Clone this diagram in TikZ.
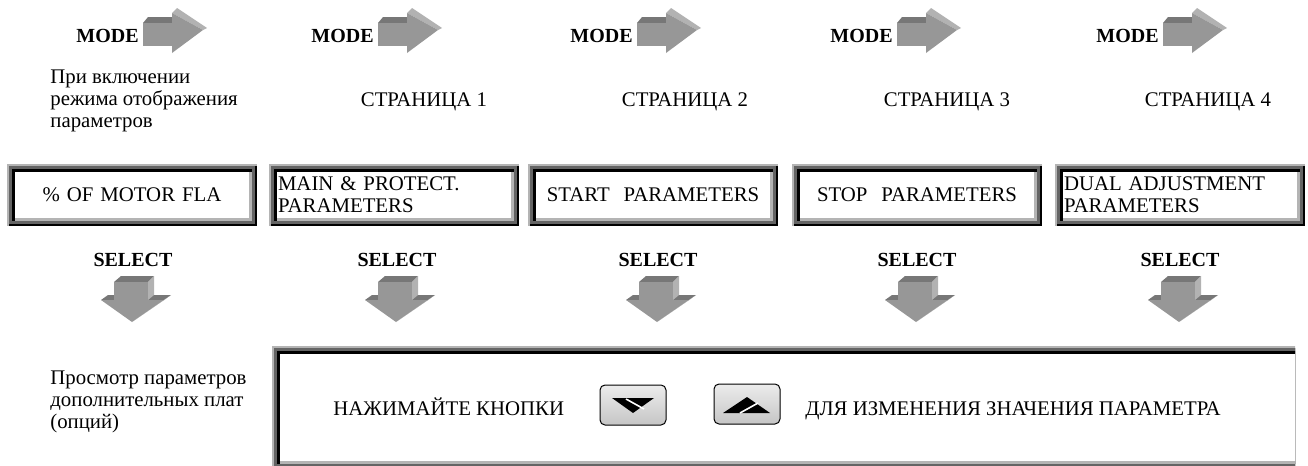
\documentclass[tikz,border=0pt]{standalone}
\usepackage{fontspec}
\setmainfont{Liberation Serif}
\usetikzlibrary{positioning,calc,backgrounds}
\definecolor{lgray}{HTML}{B4B4B4}
\definecolor{dgray}{HTML}{646464}
\definecolor{arrface}{HTML}{979797}
\definecolor{arrtop}{HTML}{777777}
\definecolor{arrlite}{HTML}{B2B2B2}

\begin{document}
\begin{tikzpicture}[x=0.5pt,y=-0.5pt,
  txt/.style={font=\fontsize{10.4}{11}\selectfont,inner sep=0pt},
  key/.style={font=\fontsize{10}{11}\selectfont\bfseries,inner sep=0pt},
  panelbox/.style={txt,minimum width=125pt,minimum height=31pt,inner xsep=4.5pt,
                   text width=116pt,align=#1},
  btn/.style={draw,rounded corners=2.5pt,line width=0.5pt,minimum width=33pt,
              minimum height=20pt,top color=gray!15,bottom color=gray!45,inner sep=0pt},
  rarrow/.pic={
    \fill[arrtop] (0,-23) -- (5,-29) -- (33,-29) -- (29,-23) -- cycle;
    \fill[arrface] (0,-23) rectangle (29,0);
    \fill[arrlite] (29,-33) -- (34,-38) -- (64,-18) -- (60,-16) -- cycle;
    \fill[arrface] (29,-33) -- (60,-16) -- (29,7) -- cycle;
  },
  sarrow/.pic={
    \fill[arrtop] (-30,18) -- (-23,13) -- (40,13) -- (33,18) -- cycle;
    \fill[arrface] (-30,18) -- (33,18) -- (1,40) -- cycle;
    \fill[arrlite] (33,18) -- (40,13) -- (1,40) -- cycle;
    \fill[arrtop] (-17,0) -- (-10,-6) -- (23,-6) -- (17,0) -- cycle;
    \fill[arrlite] (17,0) -- (23,-6) -- (23,13) -- (17,18) -- cycle;
    \fill[arrface] (-17,0) rectangle (17,18);
  }
]
\useasboundingbox (0,0) rectangle (1308,466);

\foreach \x/\n in {143/1,378/2,637/3,897/4,1163/5}{
  \node[key,anchor=east] (mode\n) at (\x-4,36) {MODE};
  \pic at (\x,46) {rarrow};
}

\node[txt,anchor=west,align=left] (page0) at (50,101)
  {При включении\\режима отображения\\параметров};
\foreach \x/\n in {424/1,685/2,947/3,1208/4}
  \node[txt,anchor=base] (page\n) at (\x,106) {СТРАНИЦА \n};

\node[panelbox=center] (box1) at (132,195) {\% OF MOTOR FLA};
\node[panelbox=left]   (box2) at (394,195) {MAIN \& PROTECT.\\PARAMETERS};
\node[panelbox=center] (box3) at (653,195) {START\ \ PARAMETERS};
\node[panelbox=center] (box4) at (917,195) {STOP\ \ PARAMETERS};
\node[panelbox=left]   (box5) at (1180,195) {DUAL ADJUSTMENT\\PARAMETERS};

\foreach \x/\n in {133/1,397/2,658/3,917/4,1180/5}{
  \node[key] (sel\n) at (\x,260) {SELECT};
  \pic at (\x-2,282) {sarrow};
}

\node[txt,anchor=west,align=left] (opts) at (50,402)
  {Просмотр параметров\\дополнительных плат\\(опций)};
\node[minimum width=511.5pt,minimum height=61.5pt,inner sep=0pt] (panel) at (783.5,407.5) {};
\node[txt,anchor=base west] (hint1) at (333,415) {НАЖИМАЙТЕ КНОПКИ};
\node[btn] (btndown) at (633,405) {};
\node[btn] (btnup) at (747,404) {};
\node[txt,anchor=base west] (hint2) at (805,415) {ДЛЯ ИЗМЕНЕНИЯ ЗНАЧЕНИЯ ПАРАМЕТРА};

\begin{scope}[shift={(btndown.center)}]
  \fill (-21,-7) -- (21,-7) -- (0,8) -- cycle;
  \draw[white,line width=0.8pt] (-7,-6) -- (11,4);
\end{scope}
\begin{scope}[shift={(btnup.center)}]
  \fill (-24,9) -- (23,9) -- (0,-7) -- cycle;
  \draw[white,line width=0.8pt] (-7,9) -- (11,-1);
\end{scope}

\begin{scope}[on background layer]
  \foreach \b in {box1,box2,box3,box4,box5}{
    \fill[lgray] (\b.north west) rectangle (\b.south east);
    \fill[black] ($(\b.north west)+(2.5,2.5)$) rectangle (\b.south east);
    \fill[dgray] ($(\b.north west)+(2.5,2.5)$) rectangle ($(\b.south east)+(-2.5,-2.5)$);
    \fill[black] ($(\b.north west)+(5.5,5.5)$) rectangle ($(\b.south east)+(-5.5,-5.5)$);
    \fill[lgray] ($(\b.north west)+(8,8)$) rectangle ($(\b.south east)+(-5.5,-5.5)$);
    \fill[white] ($(\b.north west)+(8,8)$) rectangle ($(\b.south east)+(-8,-8)$);
  }
  \clip (panel.north west) rectangle (1295,466);
  \fill[lgray] (panel.north west) rectangle ($(panel.south east)+(30,0)$);
  \fill[black] ($(panel.north west)+(2.5,2.5)$) rectangle ($(panel.south east)+(30,0)$);
  \fill[dgray] ($(panel.north west)+(2.5,2.5)$) rectangle ($(panel.south east)+(30,-2.5)$);
  \fill[black] ($(panel.north west)+(5.5,5.5)$) rectangle ($(panel.south east)+(30,-5.5)$);
  \fill[lgray] ($(panel.north west)+(8,8)$) rectangle ($(panel.south east)+(30,-5.5)$);
  \fill[white] ($(panel.north west)+(8,8)$) rectangle ($(panel.south east)+(30,-8)$);
\end{scope}
\end{tikzpicture}
\end{document}
